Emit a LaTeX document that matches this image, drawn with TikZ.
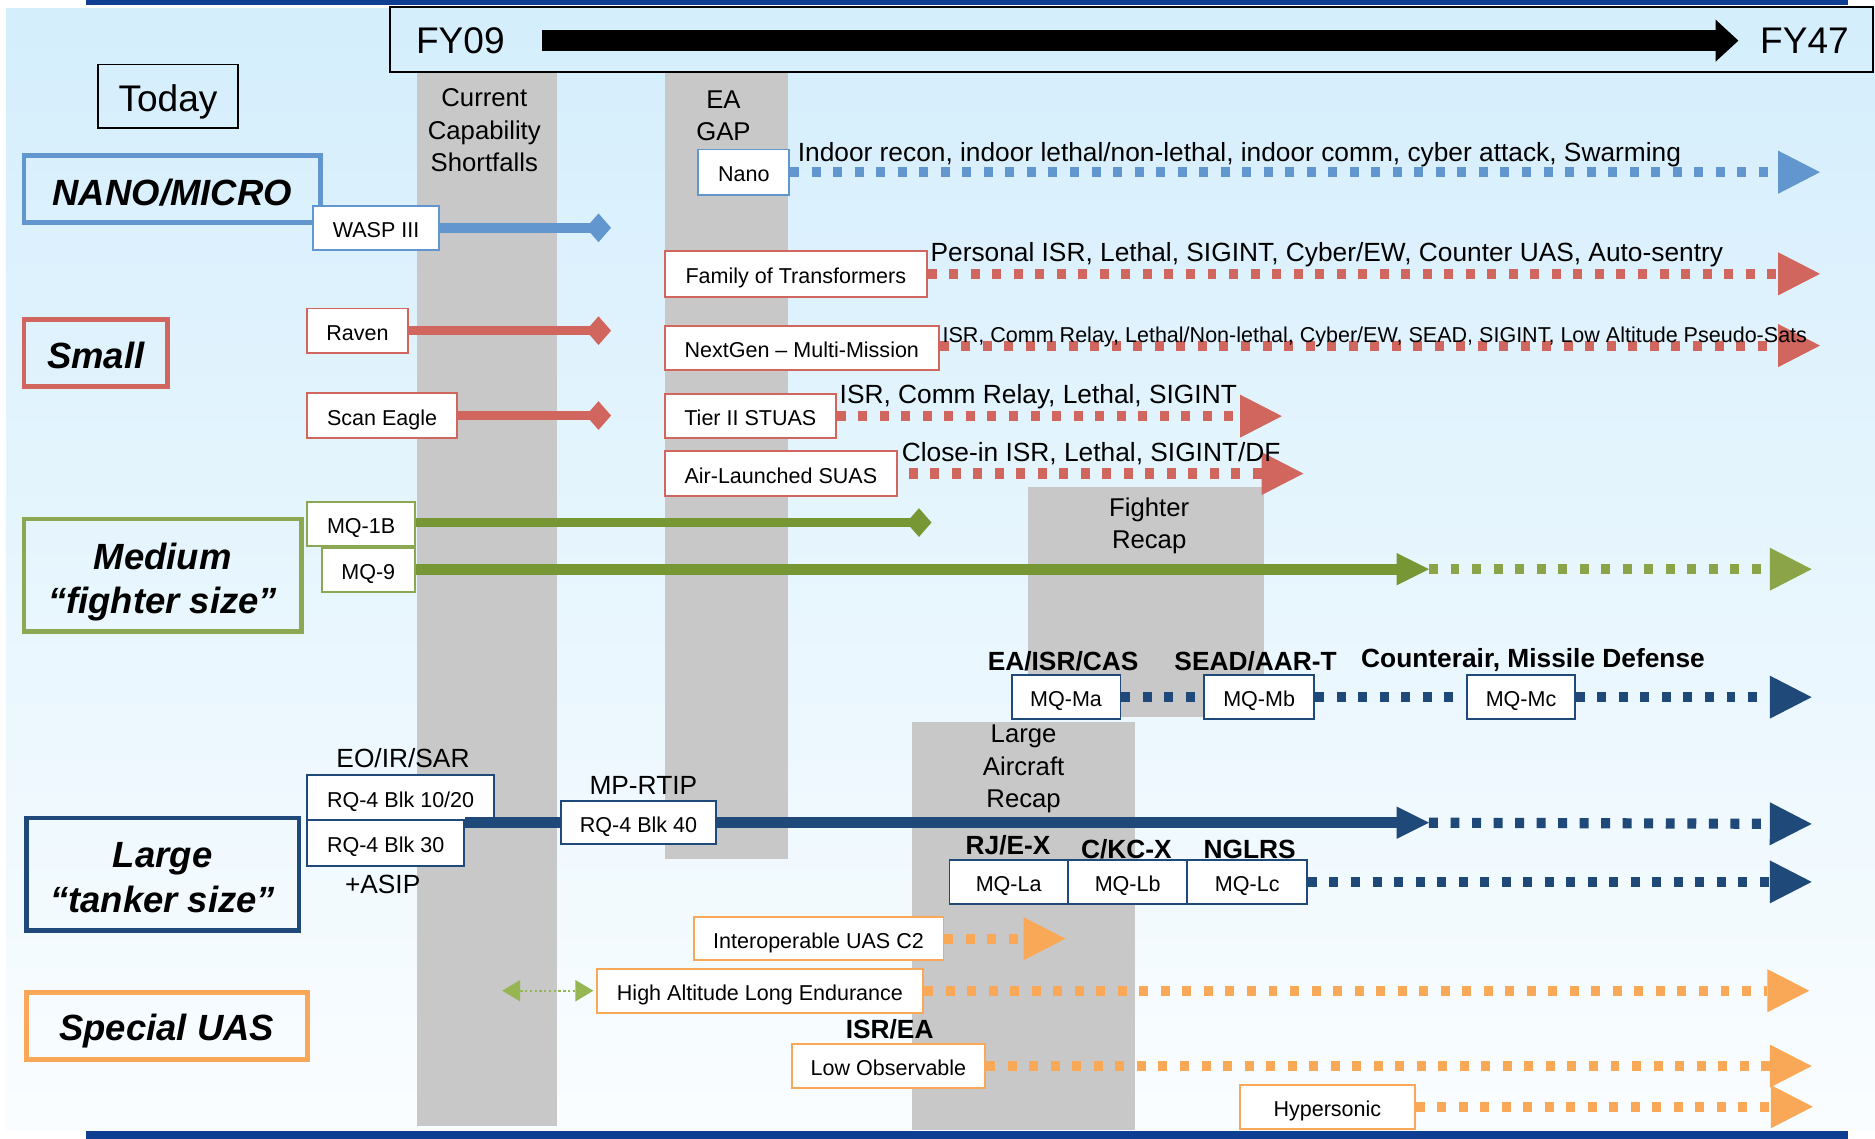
\documentclass[tikz,border=0pt]{standalone}
\usepackage{fontspec}
\setmainfont{Liberation Sans}
\usetikzlibrary{arrows.meta}
\definecolor{cBlue}{RGB}{97,150,206}
\definecolor{cRed}{RGB}{208,102,94}
\definecolor{cGreen}{RGB}{141,168,82}
\definecolor{cGreenD}{RGB}{119,150,52}
\definecolor{cGreenL}{RGB}{139,164,72}
\definecolor{cGreenS}{RGB}{150,182,84}
\definecolor{cNavy}{RGB}{31,73,120}
\definecolor{cOrange}{RGB}{249,168,87}
\definecolor{cGray}{RGB}{200,200,200}
\definecolor{bgTop}{RGB}{212,238,252}
\definecolor{bgBot}{RGB}{250,253,255}
\definecolor{barBlue}{RGB}{14,62,145}
\newcommand\fsBig{\fontsize{31}{36}\selectfont}
\newcommand\fsCat{\fontsize{30.5}{37}\selectfont\bfseries\itshape}
\newcommand\fsItem{\fontsize{18}{21}\selectfont}
\newcommand\fsLab{\fontsize{22}{27}\selectfont}
\newcommand\fsCol{\fontsize{21.5}{27}\selectfont}
\newcommand\fsBold{\fontsize{22}{26}\selectfont\bfseries}
\newcommand\fsSmallLab{\fontsize{18}{21}\selectfont}
\begin{document}
\begin{tikzpicture}[x=1pt,y=-1pt,
  cat/.style={draw=#1, line width=4pt, inner sep=0pt},
  cattext/.style={inner sep=0pt, font=\fsCat, align=center},
  item/.style={draw=#1, line width=1.6pt, fill=white, inner sep=0pt, font=\fsItem, text height=16pt, text depth=0pt},
  txt/.style={inner sep=0pt},
  dotline/.style={draw=#1, line width=8.5pt, dash pattern=on 7.5pt off 10.5pt},
  dots/.style={dotline=#1, -{Triangle[length=35pt,width=36pt,line width=0pt]}},
  solidd/.style={draw=#1, line width=8pt, -{Diamond[length=21pt,width=24pt,line width=0pt]}},
  solida/.style={draw=#1, line width=9pt, -{Triangle[length=27pt,width=27pt,line width=0pt]}}
]
\useasboundingbox (0,0) rectangle (1568,952.5);
\fill[white] (0,0) rectangle (1568,952.5);
\shade[top color=bgTop, bottom color=bgBot] (5,7) rectangle (1568,945);
\fill[barBlue] (72,0) rectangle (1545,4);
\fill[barBlue] (72,946) rectangle (1545,952.5);

% gray columns
\fill[cGray] (349,60) rectangle (466,942);
\fill[cGray] (556,60) rectangle (659,718);
\fill[cGray] (860,407) rectangle (1057,600);
\fill[cGray] (763,604) rectangle (949,945);

% timeline
\node[draw=black, line width=1.5pt, minimum width=1240pt, minimum height=54pt, inner sep=0pt] (tl) at (946,33) {};
\node[txt, font=\fsBig] (fy09) at (385,34) {FY09};
\node[txt, font=\fsBig] (fy47) at (1509,34) {FY47};
\draw[line width=17pt, -{Triangle[length=19pt,width=35pt,line width=0pt]}] ([xshift=31pt]fy09.east) -- ([xshift=-18pt]fy47.west);

\node[draw=black, line width=1.5pt, minimum width=117pt, minimum height=53pt, inner sep=0pt, font=\fsBig, text height=25pt, text depth=0pt] (today) at (140.5,80.5) {Today};

% column titles
\node[txt, font=\fsCol, align=center] (ccs) at (405,109) {Current\\Capability\\Shortfalls};
\node[txt, font=\fsCol, align=center] (eagap) at (605,97) {EA\\GAP};
\node[txt, font=\fsCol, align=center] (fr) at (961,440) {Fighter\\Recap};
\node[txt, font=\fsCol, align=center] (lar) at (856,643) {Large\\Aircraft\\Recap};

% categories
\node[cat=cBlue, minimum width=248pt, minimum height=56pt] (nanomicro) at (144,158) {};
\node[cattext] (nanomicroT) at ([yshift=-3pt]nanomicro.center) {NANO/MICRO};
\node[cat=cRed, minimum width=120pt, minimum height=56pt] (small) at (80,295) {};
\node[cattext] (smallT) at ([yshift=-2pt]small.center) {Small};
\node[cat=cGreen, minimum width=232pt, minimum height=94pt] (medium) at (136,481) {};
\node[cattext] (mediumT) at ([yshift=-6pt]medium.center) {Medium\\“fighter size”};
\node[cat=cNavy, minimum width=228pt, minimum height=94pt] (large) at (136,731) {};
\node[cattext] (largeT) at ([yshift=-3pt]large.center) {Large\\“tanker size”};
\node[cat=cOrange, minimum width=235pt, minimum height=56pt] (special) at (139.5,858) {};
\node[cattext] (specialT) at ([yshift=-4pt]special.center) {Special UAS};

% ---------- NANO/MICRO ----------
\node[item=cBlue, minimum width=105pt, minimum height=37pt] (wasp) at (314.5,190.5) {WASP III};
\coordinate (waspEnd) at (511,190.5);
\draw[solidd=cBlue] (wasp.east) -- (waspEnd);

\node[item=cBlue, minimum width=76pt, minimum height=38pt] (nano) at (622,144) {Nano};
\coordinate (nanoEnd) at (1522,144);
\draw[dots=cBlue] (nano.east) -- (nanoEnd);
\node[txt, font=\fsLab, anchor=west] (nanoLab) at (667,129) {Indoor recon, indoor lethal/non-lethal, indoor comm, cyber attack, Swarming};

% ---------- SMALL ----------
\node[item=cRed, minimum width=219pt, minimum height=38pt] (fam) at (665.5,229) {Family of Transformers};
\coordinate (famEnd) at (1522,229);
\draw[dots=cRed] (fam.east) -- (famEnd);
\node[txt, font=\fsLab, anchor=west] (famLab) at (778,213) {Personal ISR, Lethal, SIGINT, Cyber/EW, Counter UAS, Auto-sentry};

\node[item=cRed, minimum width=84pt, minimum height=37pt] (raven) at (299,276.5) {Raven};
\coordinate (ravenEnd) at (511,276.5);
\draw[solidd=cRed] (raven.east) -- (ravenEnd);

\node[item=cRed, minimum width=229pt, minimum height=37pt] (nextgen) at (670.5,291) {NextGen -- Multi-Mission};
\coordinate (ngEnd) at (1522,289);
\draw[dots=cRed] (nextgen.east |- ngEnd) -- (ngEnd);
\node[txt, font=\fsSmallLab, anchor=west] (ngLab) at (788,282) {ISR, Comm Relay, Lethal/Non-lethal, Cyber/EW, SEAD, SIGINT, Low Altitude Pseudo-Sats};

\node[item=cRed, minimum width=125pt, minimum height=37pt] (scan) at (319.5,347.5) {Scan Eagle};
\coordinate (scanEnd) at (511,347.5);
\draw[solidd=cRed] (scan.east) -- (scanEnd);

\node[item=cRed, minimum width=143pt, minimum height=37pt] (tier) at (627.5,348) {Tier II STUAS};
\coordinate (tierEnd) at (1072,348);
\draw[dots=cRed] (tier.east) -- (tierEnd);
\node[txt, font=\fsLab, anchor=west] (tierLab) at (702,332) {ISR, Comm Relay, Lethal, SIGINT};

\node[item=cRed, minimum width=194pt, minimum height=37pt] (als) at (653,396) {Air-Launched SUAS};
\coordinate (alsEnd) at (1090,396);
\draw[dots=cRed] ([xshift=9pt]als.east) -- (alsEnd);
\node[txt, font=\fsLab, anchor=west] (alsLab) at (754,379) {Close-in ISR, Lethal, SIGINT/DF};

% ---------- MEDIUM ----------
\node[item=cGreen, minimum width=90pt, minimum height=37pt] (mqb) at (302,438) {MQ-1B};
\coordinate (mqbEnd) at (779,437);
\draw[solidd=cGreenD] (mqb.east |- mqbEnd) -- (mqbEnd);

\node[item=cGreen, minimum width=78pt, minimum height=37pt] (mqnine) at (308,476.5) {MQ-9};
\coordinate (mqnineMid) at (1195,476);
\coordinate (mqnineEnd) at (1515,476);
\draw[solida=cGreenD] (mqnine.east |- mqnineMid) -- (mqnineMid);
\draw[dots=cGreenL] (mqnineMid) -- (mqnineEnd);

\node[txt, font=\fsBold] (eaisr) at (889,553) {EA/ISR/CAS};
\node[txt, font=\fsBold] (sead) at (1050,553) {SEAD/AAR-T};
\node[txt, font=\fsBold] (counter) at (1282,552) {Counterair, Missile Defense};
\node[item=cNavy, minimum width=91pt, minimum height=37pt] (ma) at (891.5,583) {MQ-Ma};
\node[item=cNavy, minimum width=92pt, minimum height=37pt] (mb) at (1053,583) {MQ-Mb};
\node[item=cNavy, minimum width=90pt, minimum height=37pt] (mc) at (1272,583) {MQ-Mc};
\coordinate (mcEnd) at (1515,583);
\draw[dotline=cNavy] (ma.east) -- (mb.west);
\draw[dotline=cNavy] (mb.east) -- (mc.west);
\draw[dots=cNavy] (mc.east) -- (mcEnd);

% ---------- LARGE ----------
\node[txt, font=\fsLab] (eoir) at (337,634) {EO/IR/SAR};
\node[item=cNavy, minimum width=156pt, minimum height=38pt] (blkten) at (335,667) {RQ-4 Blk 10/20};
\node[item=cNavy, minimum width=131pt, minimum height=38pt] (blkthirty) at (322.5,705) {RQ-4 Blk 30};
\node[txt, font=\fsLab] (asip) at (320,740) {+ASIP};
\node[txt, font=\fsLab] (mprtip) at (538,657) {MP-RTIP};
\node[item=cNavy, minimum width=130pt, minimum height=36pt] (blkforty) at (534,688) {RQ-4 Blk 40};
\coordinate (rqMid) at (1195,688);
\coordinate (rqEnd) at (1515,689);
\draw[cNavy, line width=9pt] (blkthirty.east |- blkforty.west) -- (blkforty.west);
\draw[solida=cNavy] (blkforty.east) -- (rqMid);
\draw[dots=cNavy] (rqMid) -- (rqEnd);

\node[txt, font=\fsBold] (rje) at (843,707) {RJ/E-X};
\node[txt, font=\fsBold] (ckc) at (942,710) {C/KC-X};
\node[txt, font=\fsBold] (nglrs) at (1045,710) {NGLRS};
\node[item=cNavy, minimum width=99pt, minimum height=37pt] (la) at (843.5,737.5) {MQ-La};
\node[item=cNavy, minimum width=100pt, minimum height=37pt] (lb) at (943,737.5) {MQ-Lb};
\node[item=cNavy, minimum width=100pt, minimum height=37pt] (lc) at (1043,737.5) {MQ-Lc};
\coordinate (lcEnd) at (1515,737.5);
\draw[dots=cNavy] (lc.east) -- (lcEnd);

% ---------- SPECIAL ----------
\node[item=cOrange, minimum width=209pt, minimum height=36pt] (ctwo) at (684.5,785) {Interoperable UAS C2};
\coordinate (ctwoEnd) at (891,785);
\draw[dots=cOrange] (ctwo.east) -- (ctwoEnd);

\node[item=cOrange, minimum width=273pt, minimum height=37pt] (hale) at (635.5,828.5) {High Altitude Long Endurance};
\coordinate (haleEnd) at (1513,828.5);
\draw[dots=cOrange] (hale.east) -- (haleEnd);
\coordinate (haleLeft) at (420,828.5);
\draw[cGreenS, line width=2pt, dash pattern=on 2pt off 2pt, {Triangle[length=15pt,width=18pt,line width=0pt]}-{Triangle[length=15pt,width=18pt,line width=0pt]}] (haleLeft) -- ([xshift=-2pt]hale.west);

\node[txt, font=\fsBold] (isrea) at (744,861) {ISR/EA};
\node[item=cOrange, minimum width=162pt, minimum height=37pt] (lo) at (743,891.5) {Low Observable};
\coordinate (loEnd) at (1515,891.5);
\draw[dots=cOrange] (lo.east) -- (loEnd);

\node[item=cOrange, minimum width=146pt, minimum height=37pt] (hyper) at (1110,925.5) {Hypersonic};
\coordinate (hyperEnd) at (1516,925.5);
\draw[dots=cOrange] (hyper.east) -- (hyperEnd);
\end{tikzpicture}
\end{document}
